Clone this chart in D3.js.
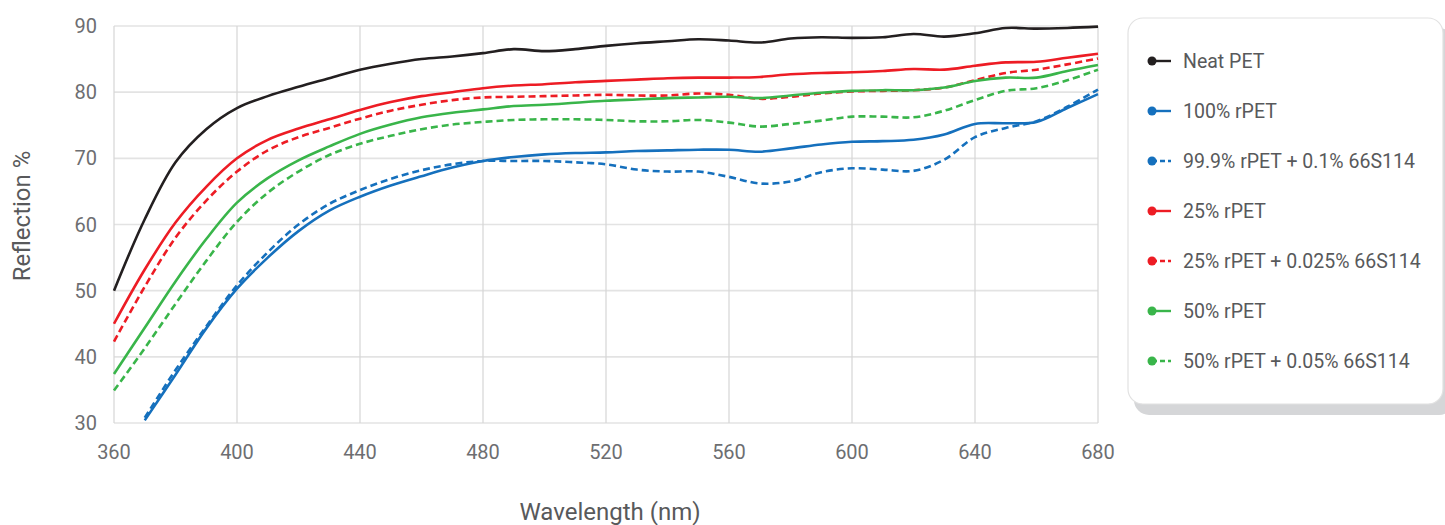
<!DOCTYPE html>
<html>
<head>
<meta charset="utf-8">
<script src="https://cdn.jsdelivr.net/npm/d3@7"></script>
<style>
  body { margin: 0; background: #fff; }
  text { font-family: Roboto, "DejaVu Sans", sans-serif; }
</style>
</head>
<body>
<svg id="chart" width="1445" height="525"></svg>
<script>
// wavelengths, nm
var wavelengths = [360,370,380,390,400,410,420,430,440,450,460,470,480,490,500,510,520,530,540,550,560,570,580,590,600,610,620,630,640,650,660,670,680];

// reflection % (null = below the axis)
var neatPet     = [50.0,60.8,69.4,74.4,77.6,79.4,80.8,82.1,83.4,84.3,85.0,85.4,85.9,86.5,86.2,86.5,87.0,87.4,87.7,88.0,87.8,87.5,88.1,88.3,88.2,88.3,88.8,88.4,88.9,89.7,89.6,89.7,89.9];
var rpet100     = [null,30.4,37.3,44.3,50.3,55.0,59.0,62.1,64.2,65.9,67.3,68.6,69.6,70.2,70.6,70.8,70.9,71.1,71.2,71.3,71.3,71.0,71.5,72.1,72.5,72.6,72.8,73.6,75.2,75.3,75.5,77.6,79.7];
var rpet999     = [null,30.8,38.0,44.6,50.8,55.8,60.0,63.1,65.2,66.9,68.2,69.1,69.6,69.6,69.6,69.4,69.1,68.3,68.0,68.0,67.2,66.2,66.5,67.9,68.5,68.3,68.1,69.8,73.2,74.6,75.6,77.8,80.4];
var rpet25      = [45.0,53.2,60.3,65.7,70.0,72.8,74.5,75.9,77.3,78.5,79.4,80.0,80.6,81.0,81.2,81.5,81.7,81.9,82.1,82.2,82.2,82.3,82.7,82.9,83.0,83.2,83.5,83.4,84.0,84.5,84.6,85.2,85.8];
var rpet25add   = [42.3,50.6,58.0,63.6,68.0,71.2,73.2,74.6,76.0,77.2,78.1,78.8,79.2,79.3,79.4,79.5,79.6,79.5,79.5,79.8,79.6,79.0,79.3,79.8,80.1,80.2,80.3,80.7,81.8,82.9,83.4,84.2,85.1];
var rpet50      = [37.4,44.4,51.4,57.8,63.3,67.0,69.7,71.8,73.7,75.1,76.2,76.9,77.4,77.9,78.1,78.4,78.7,78.9,79.1,79.2,79.3,79.1,79.5,79.9,80.2,80.3,80.3,80.7,81.7,82.2,82.2,83.2,84.1];
var rpet50add   = [34.9,41.3,48.0,54.5,60.4,64.8,68.0,70.5,72.2,73.4,74.4,75.1,75.5,75.8,75.9,75.9,75.8,75.6,75.6,75.8,75.4,74.8,75.2,75.7,76.3,76.3,76.2,77.2,78.8,80.2,80.6,81.8,83.4];

var seriesNames = ["Neat PET","100% rPET","99.9% rPET + 0.1% 66S114","25% rPET","25% rPET + 0.025% 66S114","50% rPET","50% rPET + 0.05% 66S114"];
var seriesValues = [neatPet, rpet100, rpet999, rpet25, rpet25add, rpet50, rpet50add];
var seriesColors = ["#231f20","#1570bd","#1570bd","#ed1c24","#ed1c24","#39b54a","#39b54a"];
var seriesDashed = [false,false,true,false,true,false,true];

var xTicks = [360,400,440,480,520,560,600,640,680];
var yTicks = [30,40,50,60,70,80,90];

var svg = d3.select("#chart");
var plotL = 114, plotR = 1098, plotT = 26, plotB = 423;

var x = d3.scaleLinear().domain([360,680]).range([plotL,plotR]);
var y = d3.scaleLinear().domain([30,90]).range([plotB,plotT]);

// grid
var grid = svg.append("g");
grid.selectAll("line.h").data(yTicks).enter().append("line")
  .attr("x1",plotL).attr("x2",plotR)
  .attr("y1",function(d){return y(d);}).attr("y2",function(d){return y(d);})
  .style("stroke","#e3e3e3").style("stroke-width",1.6);
grid.selectAll("line.v").data(xTicks).enter().append("line")
  .attr("y1",plotT).attr("y2",plotB)
  .attr("x1",function(d){return x(d);}).attr("x2",function(d){return x(d);})
  .style("stroke","#d6d6d6").style("stroke-width",1.2);

// tick labels
svg.append("g").selectAll("text").data(yTicks).enter().append("text")
  .attr("x",plotL-17).attr("y",function(d){return y(d);})
  .attr("dy",".35em")
  .style("text-anchor","end").style("font-size","20px").style("fill","#6d6e71")
  .text(function(d){return d;});
svg.append("g").selectAll("text").data(xTicks).enter().append("text")
  .attr("x",function(d){return x(d);}).attr("y",452)
  .attr("dy",".35em")
  .style("text-anchor","middle").style("font-size","20px").style("fill","#6d6e71")
  .text(function(d){return d;});

svg.append("text")
  .attr("transform","translate(22,216) rotate(-90)")
  .attr("dy",".35em")
  .style("text-anchor","middle").style("font-size","24px").style("fill","#58595b")
  .text("Reflection %");
svg.append("text")
  .attr("x",610).attr("y",512).attr("dy",".35em")
  .style("text-anchor","middle").style("font-size","24px").style("fill","#58595b")
  .text("Wavelength (nm)");

// lines
var line = d3.line()
  .defined(function(d){return d[1] !== null;})
  .x(function(d){return x(d[0]);})
  .y(function(d){return y(d[1]);})
  .curve(d3.curveCatmullRom.alpha(0.5));

svg.append("g").selectAll("path")
  .data(seriesValues.map(function(vals,i){ return {i:i, pts: wavelengths.map(function(w,j){return [w, vals[j]];})}; }))
  .enter().append("path")
  .attr("d",function(d){return line(d.pts);})
  .style("fill","none")
  .style("stroke",function(d){return seriesColors[d.i];})
  .style("stroke-width",2.6)
  .style("stroke-dasharray",function(d){return seriesDashed[d.i] ? "7,4" : null;});

// legend
var legend = svg.append("g").attr("transform","translate(1128,18)");
legend.append("rect")
  .attr("x",6).attr("y",10).attr("width",320).attr("height",387)
  .attr("rx",15).style("fill","#d5d6d8");
legend.append("rect")
  .attr("x",0).attr("y",0).attr("width",315).attr("height",386)
  .attr("rx",15).style("fill","#fff").style("stroke","#e2e2e2").style("stroke-width",1.2);

var keys = legend.selectAll("g.key").data(seriesNames).enter().append("g")
  .attr("class","key")
  .attr("transform",function(d,i){return "translate(0," + (43 + i*50) + ")";});
keys.append("line")
  .attr("x1",24).attr("x2",43)
  .style("stroke",function(d,i){return seriesColors[i];})
  .style("stroke-width",2.4)
  .style("stroke-dasharray",function(d,i){return seriesDashed[i] ? "5,3" : null;});
keys.append("circle")
  .attr("cx",24).attr("r",4.5)
  .style("fill",function(d,i){return seriesColors[i];});
keys.append("text")
  .attr("x",55).attr("dy",".35em")
  .style("font-size","19.5px").style("fill","#58595b")
  .text(function(d){return d;});
</script>
</body>
</html>
